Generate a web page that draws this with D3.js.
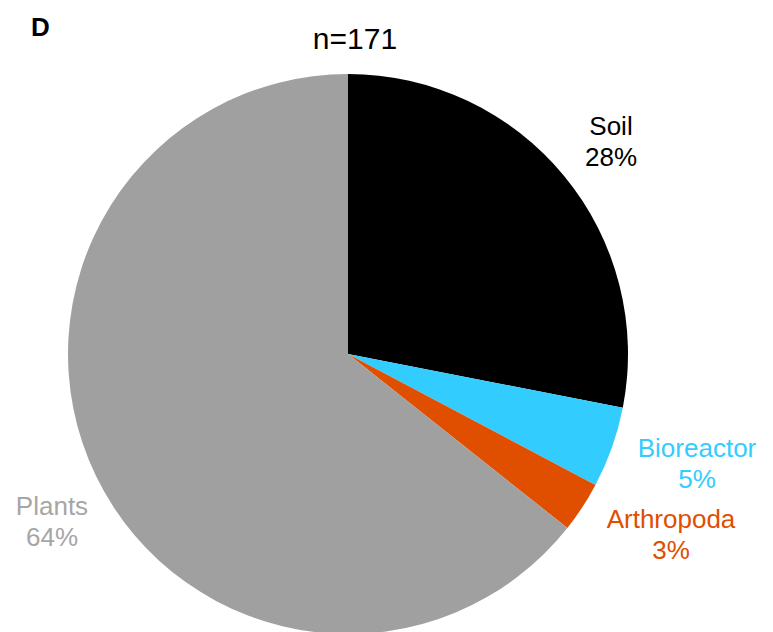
<!DOCTYPE html>
<html>
<head>
<meta charset="utf-8">
<script src="https://cdn.jsdelivr.net/npm/d3@7/dist/d3.min.js"></script>
<style>
  html, body { margin: 0; padding: 0; background: #fff; }
  svg { display: block; font-family: "Liberation Sans", Arial, sans-serif; }
</style>
</head>
<body>
<script>
// Isolation sources (counts out of n = 171)
const categories = ["Soil", "Bioreactor", "Arthropoda", "Plants"];
const counts = [48, 8, 5, 110];
const percentLabels = ["28%", "5%", "3%", "64%"];
const colors = ["#000000", "#33ccff", "#e04e00", "#a0a0a0"];
const labelColors = ["#000000", "#33ccff", "#e04e00", "#a6a6a6"];
const titleText = "n=171";
const panelLetter = "D";

const W = 773, H = 632;
const cx = 348, cy = 354, R = 280;

const svg = d3.select("body").append("svg")
  .attr("width", W).attr("height", H);

const data = categories.map((c, i) => ({ name: c, value: counts[i], pct: percentLabels[i], i }));

const pie = d3.pie().value(d => d.value).sort(null);
const arc = d3.arc().innerRadius(0).outerRadius(R);

const g = svg.append("g").attr("transform", `translate(${cx},${cy})`);
g.selectAll("path")
  .data(pie(data))
  .join("path")
  .attr("d", arc)
  .attr("fill", d => colors[d.data.i]);

// Label anchor positions relative to the pie centre
const labelPos = {
  Soil: [263, -219],
  Bioreactor: [349, 103],
  Arthropoda: [323, 174],
  Plants: [-296, 161]
};

const labels = svg.append("g");
data.forEach(d => {
  const [dx, dy] = labelPos[d.name];
  const t = labels.append("text")
    .attr("x", cx + dx).attr("y", cy + dy)
    .attr("text-anchor", "middle")
    .attr("font-size", 26)
    .attr("fill", labelColors[d.i]);
  t.append("tspan").attr("x", cx + dx).text(d.name);
  t.append("tspan").attr("x", cx + dx).attr("dy", 31).text(d.pct);
});

svg.append("text")
  .attr("x", 355).attr("y", 49)
  .attr("text-anchor", "middle")
  .attr("font-size", 30)
  .text(titleText);

svg.append("text")
  .attr("x", 31).attr("y", 36)
  .attr("font-size", 26)
  .attr("font-weight", "bold")
  .text(panelLetter);
</script>
</body>
</html>
